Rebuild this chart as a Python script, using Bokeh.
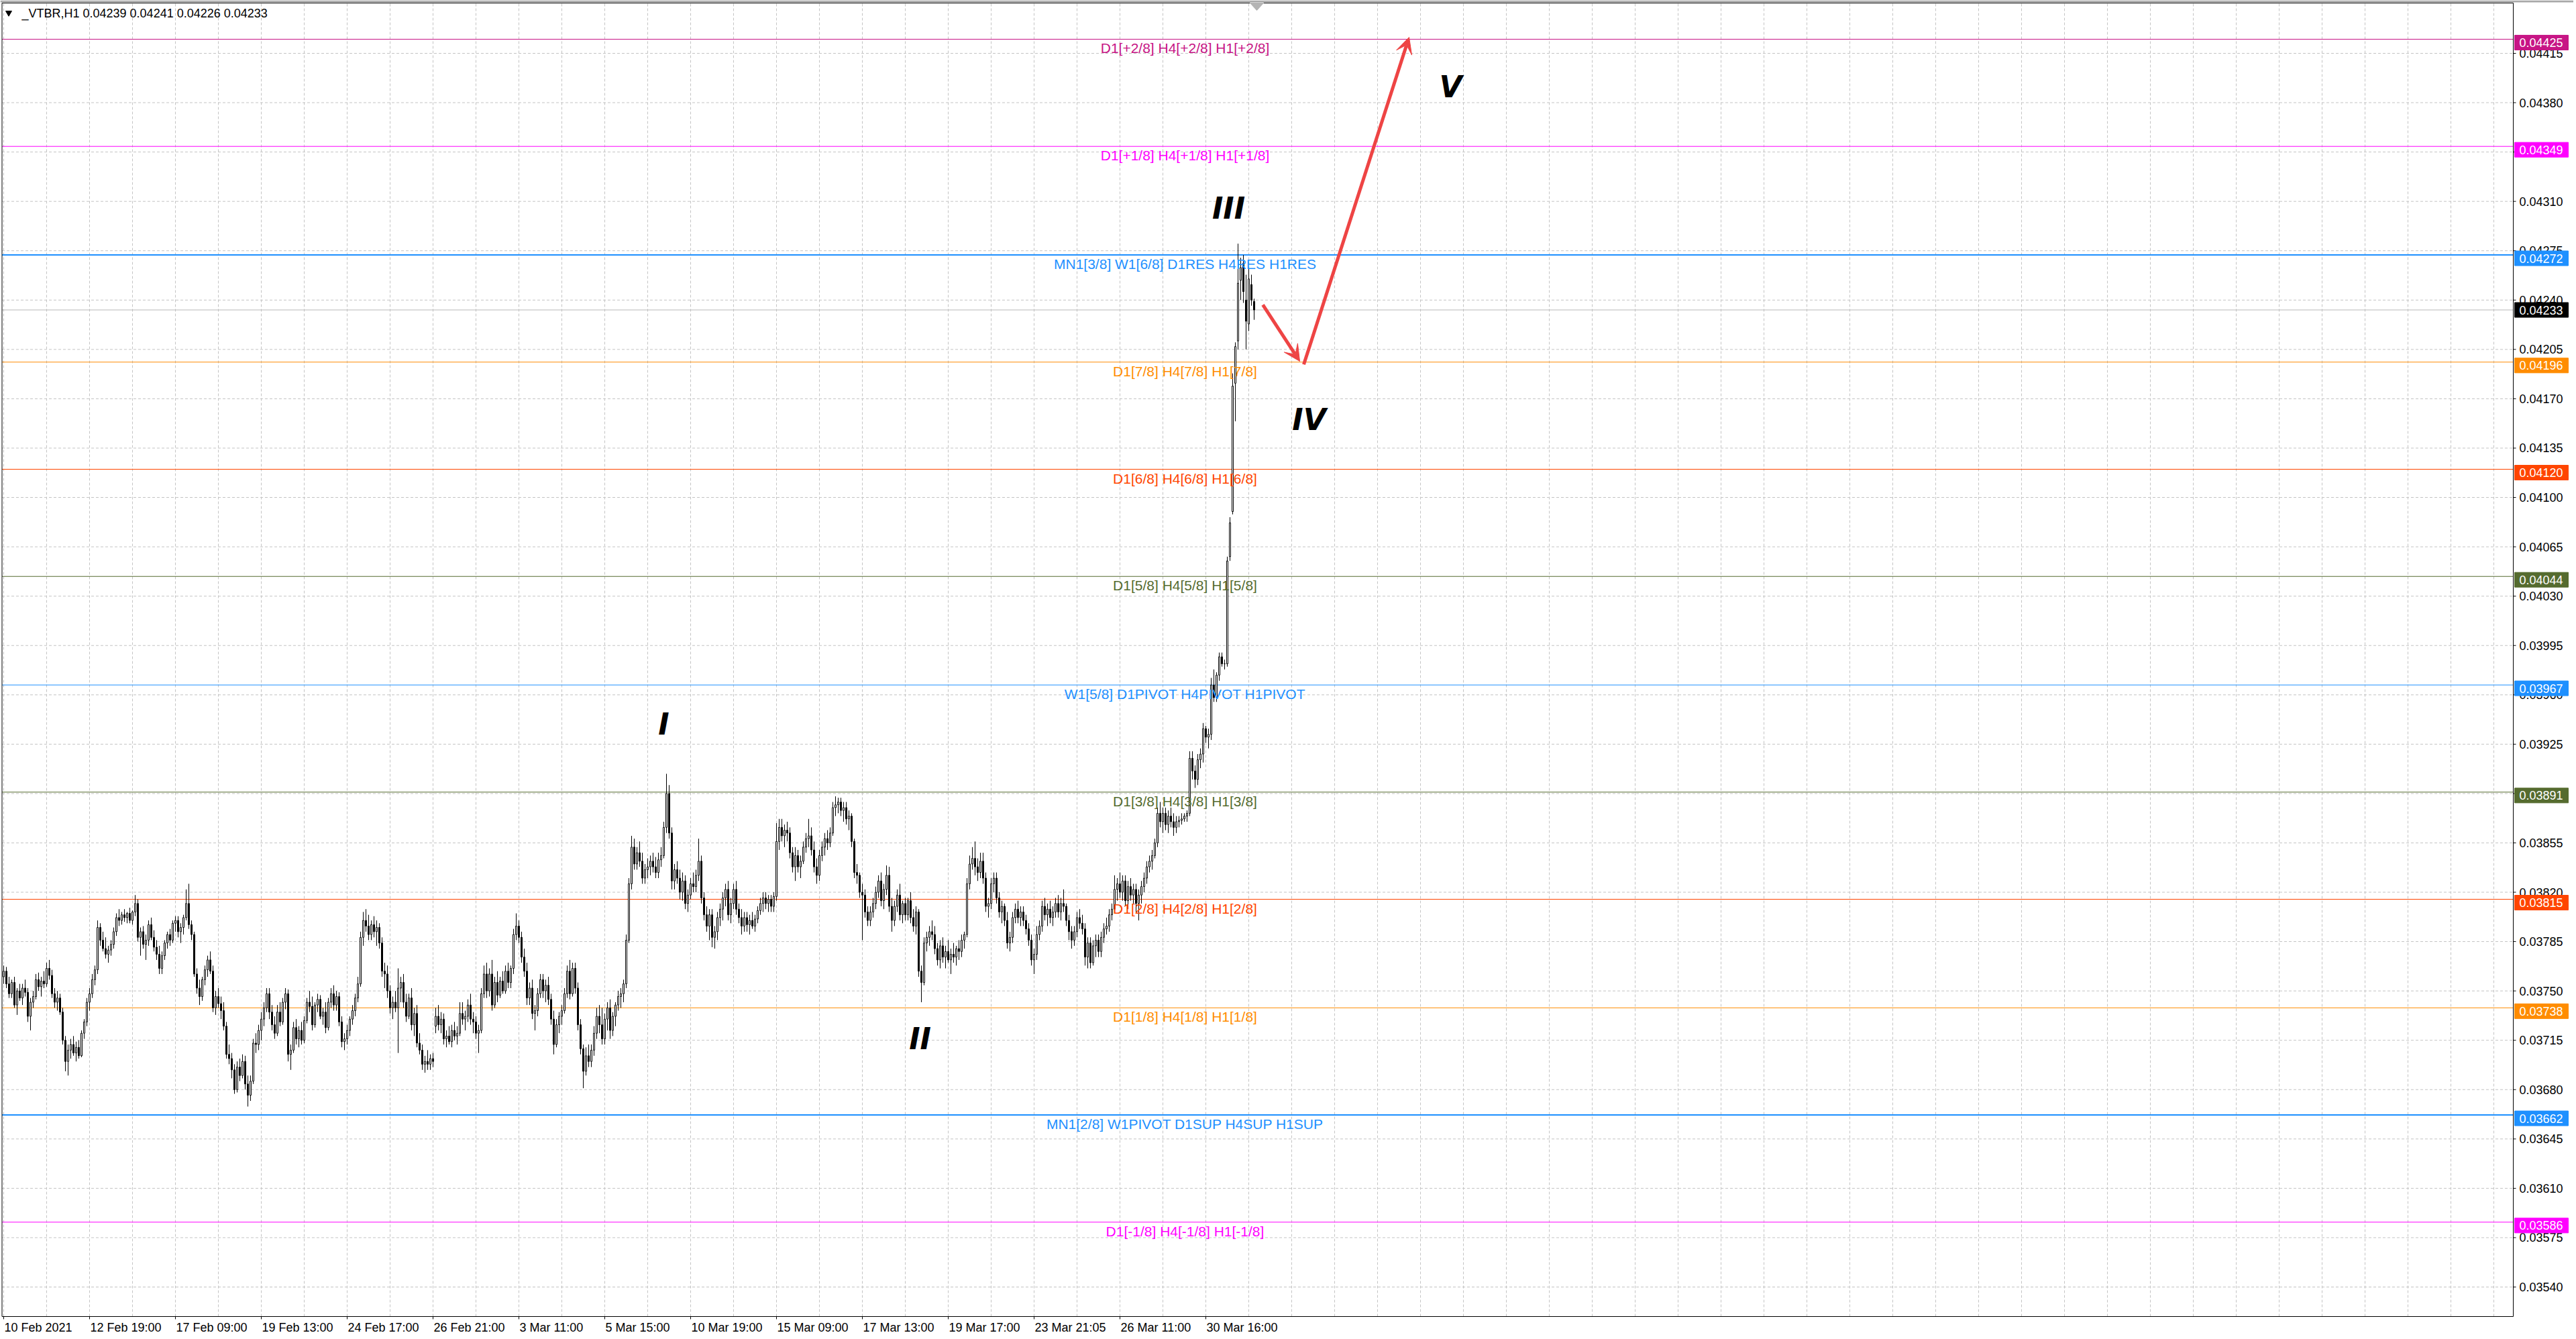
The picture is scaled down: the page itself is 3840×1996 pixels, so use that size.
import numpy as np
from bokeh.plotting import figure
from bokeh.models import Range1d, Arrow, VeeHead, ColumnDataSource
from bokeh.core.properties import value
from bokeh.embed import file_html
from bokeh.resources import INLINE

# ---------------- data ----------------
TITLE_TEXT = "_VTBR,H1  0.04239 0.04241 0.04226 0.04233"
PRICE_UNIT = 0.00001  # OHLC values below are in 1e-5 units

OPEN = [
    3760,3764,3755,3748,3756,3740,3750,3745,3752,3749,
    3732,3742,3746,3758,3753,3757,3755,3766,3761,3748,
    3742,3745,3735,3715,3700,3708,3712,3706,3710,3704,
    3720,3728,3742,3748,3758,3765,3795,3786,3780,3776,
    3779,3783,3792,3802,3800,3804,3802,3805,3800,3806,
    3812,3788,3792,3783,3786,3797,3788,3781,3776,3766,
    3775,3784,3790,3786,3798,3800,3792,3795,3802,3812,
    3797,3790,3762,3752,3746,3758,3765,3772,3764,3738,
    3746,3741,3736,3725,3705,3702,3694,3680,3696,3690,
    3700,3684,3676,3686,3713,3712,3722,3730,3738,3748,
    3735,3726,3720,3735,3728,3742,3748,3705,3708,3724,
    3716,3722,3715,3729,3742,3739,3726,3740,3744,3732,
    3735,3724,3742,3748,3740,3746,3728,3714,3716,3722,
    3730,3736,3745,3755,3788,3800,3796,3790,3797,3792,
    3795,3784,3764,3762,3750,3738,3742,3738,3752,3756,
    3742,3732,3745,3726,3734,3713,3708,3698,3700,3698,
    3702,3725,3732,3726,3730,3716,3718,3714,3722,3718,
    3720,3734,3730,3732,3740,3730,3728,3720,3722,3748,
    3762,3750,3762,3740,3756,3747,3757,3750,3764,3756,
    3766,3790,3796,3788,3774,3764,3745,3752,3734,3736,
    3748,3758,3750,3754,3744,3730,3712,3726,3732,3736,
    3748,3764,3748,3766,3752,3726,3709,3693,3704,3700,
    3708,3720,3732,3726,3716,3730,3738,3722,3732,3740,
    3746,3748,3755,3786,3826,3852,3840,3848,3842,3830,
    3836,3838,3842,3838,3834,3843,3846,3866,3890,3862,
    3828,3836,3830,3820,3828,3812,3818,3826,3824,3832,
    3842,3816,3804,3796,3804,3788,3792,3802,3808,3816,
    3822,3804,3812,3822,3808,3802,3796,3802,3797,3800,
    3796,3801,3807,3812,3816,3812,3815,3810,3817,3856,
    3866,3860,3864,3862,3848,3838,3846,3838,3842,3852,
    3858,3860,3850,3838,3832,3846,3852,3858,3855,3862,
    3880,3882,3884,3878,3880,3872,3874,3856,3834,3832,
    3820,3818,3806,3800,3806,3812,3820,3828,3814,3822,
    3832,3810,3800,3810,3818,3804,3812,3804,3814,3802,
    3796,3806,3764,3756,3784,3788,3792,3790,3780,3772,
    3782,3774,3778,3772,3776,3774,3780,3778,3786,3790,
    3826,3840,3844,3838,3834,3842,3830,3810,3812,3826,
    3830,3816,3806,3810,3800,3784,3788,3802,3808,3802,
    3806,3800,3794,3786,3772,3776,3790,3796,3810,3804,
    3808,3802,3806,3812,3806,3812,3810,3800,3792,3786,
    3792,3802,3798,3794,3774,3784,3770,3782,3786,3778,
    3788,3794,3796,3804,3808,3822,3826,3820,3828,3814,
    3824,3818,3822,3812,3818,3824,3830,3838,3842,3846,
    3855,3876,3870,3876,3868,3874,3870,3866,3870,3871,
    3872,3874,3876,3915,3906,3900,3914,3918,3936,3930,
    3932,3967,3958,3974,3987,3982,3982,4058,4090,4181,
    4211,4254,4266,4240,4223,4251,4239,
]

HIGH = [
    3768,3767,3760,3758,3760,3752,3755,3755,3758,3752,
    3745,3750,3762,3763,3760,3764,3770,3772,3765,3752,
    3750,3748,3738,3718,3712,3716,3718,3714,3715,3722,
    3730,3745,3752,3762,3768,3800,3798,3792,3788,3782,
    3786,3795,3805,3808,3806,3808,3806,3809,3807,3818,
    3815,3795,3796,3790,3800,3802,3793,3786,3782,3778,
    3786,3792,3794,3800,3803,3803,3798,3804,3822,3826,
    3800,3792,3766,3758,3760,3768,3775,3778,3768,3750,
    3752,3746,3742,3728,3712,3706,3698,3700,3702,3705,
    3704,3690,3690,3716,3720,3726,3735,3742,3752,3752,
    3740,3732,3740,3742,3745,3752,3751,3712,3728,3730,
    3725,3728,3732,3745,3750,3746,3742,3748,3747,3738,
    3742,3745,3752,3754,3750,3749,3732,3720,3726,3732,
    3740,3748,3760,3792,3806,3808,3804,3800,3803,3800,
    3798,3788,3770,3768,3754,3746,3750,3766,3760,3762,
    3748,3748,3752,3738,3740,3720,3712,3704,3708,3705,
    3706,3738,3740,3735,3734,3722,3725,3726,3728,3725,
    3742,3742,3736,3744,3748,3735,3732,3726,3752,3768,
    3770,3766,3772,3760,3764,3760,3764,3768,3770,3768,
    3794,3805,3800,3792,3780,3770,3756,3758,3740,3752,
    3762,3762,3758,3760,3748,3736,3730,3735,3740,3752,
    3768,3772,3770,3770,3756,3730,3712,3710,3712,3712,
    3725,3738,3740,3738,3734,3742,3744,3735,3742,3750,
    3752,3758,3790,3830,3860,3858,3852,3856,3848,3840,
    3844,3846,3848,3845,3848,3852,3870,3904,3896,3866,
    3840,3842,3836,3834,3832,3822,3830,3834,3836,3858,
    3846,3820,3810,3808,3808,3796,3806,3812,3820,3826,
    3828,3816,3826,3828,3812,3808,3806,3806,3804,3806,
    3804,3810,3816,3820,3820,3818,3818,3820,3869,3872,
    3872,3868,3870,3866,3852,3852,3850,3846,3856,3862,
    3872,3866,3856,3844,3850,3856,3862,3864,3866,3884,
    3888,3887,3887,3884,3884,3878,3876,3858,3840,3834,
    3826,3822,3810,3810,3816,3824,3832,3834,3826,3839,
    3838,3816,3814,3822,3826,3814,3816,3816,3820,3808,
    3810,3808,3768,3788,3792,3796,3800,3796,3784,3786,
    3788,3782,3786,3780,3784,3782,3786,3790,3792,3830,
    3846,3852,3856,3844,3848,3848,3834,3816,3830,3834,
    3834,3820,3814,3812,3806,3792,3806,3812,3814,3810,
    3810,3804,3798,3790,3780,3796,3800,3814,3816,3812,
    3814,3810,3816,3818,3816,3822,3812,3804,3796,3796,
    3806,3808,3804,3798,3788,3788,3786,3790,3790,3792,
    3798,3802,3808,3812,3832,3830,3834,3832,3832,3828,
    3830,3826,3826,3822,3828,3834,3842,3846,3850,3858,
    3880,3884,3880,3880,3878,3880,3876,3874,3874,3876,
    3876,3878,3920,3920,3910,3918,3922,3940,3938,3936,
    3972,3978,3976,3990,3990,3985,4058,4086,4188,4210,
    4280,4270,4272,4258,4262,4258,4241,
]

LOW = [
    3755,3752,3745,3745,3738,3733,3743,3740,3746,3728,
    3722,3738,3744,3750,3746,3752,3753,3758,3745,3738,
    3736,3733,3712,3693,3690,3702,3704,3700,3702,3703,
    3716,3725,3736,3745,3754,3762,3782,3778,3773,3770,
    3775,3780,3789,3796,3797,3799,3798,3798,3797,3803,
    3785,3775,3780,3772,3782,3786,3778,3772,3762,3762,
    3772,3780,3782,3784,3792,3788,3784,3790,3800,3794,
    3786,3760,3748,3740,3743,3754,3760,3762,3735,3733,
    3738,3730,3722,3702,3698,3688,3677,3678,3686,3688,
    3680,3668,3672,3684,3706,3708,3715,3725,3735,3730,
    3722,3716,3718,3725,3726,3737,3700,3694,3706,3712,
    3710,3712,3713,3727,3735,3722,3724,3735,3730,3726,
    3720,3722,3738,3736,3736,3725,3710,3708,3712,3718,
    3726,3732,3742,3753,3782,3792,3786,3786,3788,3782,
    3780,3760,3752,3745,3734,3730,3735,3706,3742,3738,
    3728,3730,3722,3718,3710,3705,3694,3692,3694,3694,
    3696,3720,3722,3720,3712,3710,3712,3710,3715,3712,
    3718,3726,3722,3728,3726,3720,3716,3706,3720,3745,
    3745,3746,3736,3738,3742,3745,3748,3748,3752,3752,
    3762,3786,3784,3770,3760,3740,3740,3730,3722,3732,
    3745,3745,3742,3740,3726,3705,3710,3720,3726,3734,
    3745,3744,3746,3748,3722,3705,3681,3690,3696,3696,
    3704,3716,3720,3712,3712,3722,3716,3718,3725,3736,
    3738,3742,3752,3784,3822,3836,3836,3838,3826,3826,
    3830,3832,3834,3830,3830,3838,3844,3862,3858,3822,
    3822,3826,3815,3814,3808,3806,3815,3820,3820,3828,
    3812,3800,3792,3786,3781,3780,3786,3796,3800,3810,
    3800,3798,3808,3804,3798,3790,3792,3792,3790,3794,
    3792,3798,3804,3806,3808,3806,3806,3806,3814,3850,
    3856,3852,3856,3844,3834,3828,3834,3830,3840,3848,
    3852,3846,3834,3826,3828,3842,3846,3850,3852,3860,
    3874,3876,3874,3870,3868,3864,3852,3830,3826,3816,
    3786,3802,3796,3796,3802,3808,3816,3810,3808,3818,
    3806,3792,3796,3806,3800,3798,3800,3800,3798,3792,
    3790,3760,3742,3754,3778,3782,3786,3776,3768,3766,
    3770,3766,3770,3762,3770,3768,3772,3774,3780,3788,
    3822,3836,3832,3828,3830,3826,3806,3802,3808,3820,
    3812,3802,3798,3796,3780,3778,3784,3798,3798,3796,
    3796,3790,3782,3768,3762,3772,3786,3792,3800,3796,
    3798,3796,3802,3802,3800,3806,3796,3786,3780,3782,
    3788,3794,3790,3768,3766,3766,3768,3774,3774,3774,
    3784,3790,3792,3800,3806,3814,3816,3814,3810,3808,
    3814,3812,3806,3800,3812,3820,3826,3834,3836,3844,
    3852,3866,3862,3864,3862,3866,3860,3862,3866,3868,
    3870,3870,3874,3900,3894,3896,3908,3912,3926,3922,
    3928,3955,3955,3970,3980,3978,3980,4055,4088,4154,
    4205,4240,4238,4205,4218,4236,4226,
]

CLOSE = [
    3764,3755,3748,3756,3740,3750,3745,3752,3749,3732,
    3742,3746,3758,3753,3757,3755,3766,3761,3748,3742,
    3745,3735,3715,3700,3708,3712,3706,3710,3704,3720,
    3728,3742,3748,3758,3765,3795,3786,3780,3776,3779,
    3783,3792,3802,3800,3804,3802,3805,3800,3806,3812,
    3788,3792,3783,3786,3797,3788,3781,3776,3766,3775,
    3784,3790,3786,3798,3800,3792,3795,3802,3812,3797,
    3790,3762,3752,3746,3758,3765,3772,3764,3738,3746,
    3741,3736,3725,3705,3702,3694,3680,3696,3690,3700,
    3684,3676,3686,3713,3712,3722,3730,3738,3748,3735,
    3726,3720,3735,3728,3742,3748,3705,3708,3724,3716,
    3722,3715,3729,3742,3739,3726,3740,3744,3732,3735,
    3724,3742,3748,3740,3746,3728,3714,3716,3722,3730,
    3736,3745,3755,3788,3800,3796,3790,3797,3792,3795,
    3784,3764,3762,3750,3738,3742,3738,3752,3756,3742,
    3732,3745,3726,3734,3713,3708,3698,3700,3698,3702,
    3700,3732,3726,3730,3716,3718,3714,3722,3718,3720,
    3734,3730,3732,3740,3730,3728,3720,3722,3748,3762,
    3750,3762,3740,3756,3747,3757,3750,3764,3756,3766,
    3790,3796,3788,3774,3764,3745,3752,3734,3736,3748,
    3758,3750,3754,3744,3730,3712,3726,3732,3736,3748,
    3764,3748,3766,3752,3726,3709,3693,3704,3700,3708,
    3720,3732,3726,3716,3730,3738,3722,3732,3740,3746,
    3748,3755,3786,3826,3852,3840,3848,3842,3830,3836,
    3838,3842,3838,3834,3843,3846,3866,3890,3862,3828,
    3836,3830,3820,3828,3812,3818,3826,3824,3832,3842,
    3816,3804,3796,3804,3788,3792,3802,3808,3816,3822,
    3804,3812,3822,3808,3802,3796,3802,3797,3800,3796,
    3801,3807,3812,3816,3812,3815,3810,3817,3856,3866,
    3860,3864,3862,3848,3838,3846,3838,3842,3852,3858,
    3860,3850,3838,3832,3846,3852,3858,3855,3862,3880,
    3882,3884,3878,3880,3872,3874,3856,3834,3832,3820,
    3818,3806,3800,3806,3812,3820,3828,3814,3822,3832,
    3810,3800,3810,3818,3804,3812,3804,3814,3802,3796,
    3806,3764,3756,3784,3788,3792,3790,3780,3772,3782,
    3774,3778,3772,3776,3774,3780,3778,3786,3790,3826,
    3840,3844,3838,3834,3842,3830,3810,3812,3826,3830,
    3816,3806,3810,3800,3784,3788,3802,3808,3802,3806,
    3800,3794,3786,3772,3776,3790,3796,3810,3804,3808,
    3802,3806,3812,3806,3812,3810,3800,3792,3786,3792,
    3802,3798,3794,3774,3784,3770,3782,3786,3778,3788,
    3794,3796,3804,3808,3822,3826,3820,3828,3814,3824,
    3818,3822,3812,3818,3824,3830,3838,3842,3846,3855,
    3876,3870,3876,3868,3874,3870,3866,3870,3871,3872,
    3874,3876,3915,3906,3900,3914,3918,3936,3930,3932,
    3967,3958,3974,3987,3982,3982,4055,4082,4179,4207,
    4252,4263,4246,4225,4255,4240,4233,
]

DATE_TICKS = [0, 32, 64, 96, 128, 160, 192, 224, 256, 288, 320, 352, 384, 416, 448]
DATE_LABELS = ["10 Feb 2021", "12 Feb 19:00", "17 Feb 09:00", "19 Feb 13:00",
               "24 Feb 17:00", "26 Feb 21:00", "3 Mar 11:00", "5 Mar 15:00",
               "10 Mar 19:00", "15 Mar 09:00", "17 Mar 13:00", "19 Mar 17:00",
               "23 Mar 21:05", "26 Mar 11:00", "30 Mar 16:00"]

PRICE_TICKS = [0.03540, 0.03575, 0.03610, 0.03645, 0.03680, 0.03715, 0.03750,
               0.03785, 0.03820, 0.03855, 0.03890, 0.03925, 0.03960, 0.03995,
               0.04030, 0.04065, 0.04100, 0.04135, 0.04170, 0.04205, 0.04240,
               0.04275, 0.04310, 0.04345, 0.04380, 0.04415]

LEVEL_PRICES = [0.04425, 0.04349, 0.04272, 0.04196, 0.04120, 0.04044,
                0.03967, 0.03891, 0.03815, 0.03738, 0.03662, 0.03586]
LEVEL_TEXTS = ["D1[+2/8] H4[+2/8] H1[+2/8]",
               "D1[+1/8] H4[+1/8] H1[+1/8]",
               "MN1[3/8] W1[6/8] D1RES H4RES H1RES",
               "D1[7/8] H4[7/8] H1[7/8]",
               "D1[6/8] H4[6/8] H1[6/8]",
               "D1[5/8] H4[5/8] H1[5/8]",
               "W1[5/8] D1PIVOT H4PIVOT H1PIVOT",
               "D1[3/8] H4[3/8] H1[3/8]",
               "D1[2/8] H4[2/8] H1[2/8]",
               "D1[1/8] H4[1/8] H1[1/8]",
               "MN1[2/8] W1PIVOT D1SUP H4SUP H1SUP",
               "D1[-1/8] H4[-1/8] H1[-1/8]"]
LAST_PRICE = 0.04233

WAVE_TEXTS = ["I", "II", "III", "IV", "V"]
WAVE_BAR = [246.0, 341.5, 456.5, 486.5, 539.25]
WAVE_PRICE = [0.03939, 0.03716, 0.04305, 0.04155, 0.04391]

ARROW_BAR0 = [469.25, 484.5]
ARROW_PRICE0 = [0.042366, 0.041943]
ARROW_BAR1 = [483.0, 523.75]
ARROW_PRICE1 = [0.041966, 0.044264]

# ---------------- styles / layout ----------------
LEVEL_COLORS = ["#C71585", "#FF00FF", "#1E90FF", "#FF8C00", "#FF4500", "#556B2F",
                "#1E90FF", "#556B2F", "#FF4500", "#FF8C00", "#1E90FF", "#FF00FF"]
LEVEL_WIDTHS = [1, 1, 2, 1, 1, 1, 1, 1, 1, 1, 2, 1]
ARROW_COLOR = "#EE4444"
GRID_COLOR = "#C4C4C4"
FONT = "Liberation Sans"

W, H = 3836, 1992
BAR_PX = 4.0          # pixels per bar
PX_PER_PRICE = 210171.0


def bar_at(px):
    return (px - 5.0) / BAR_PX


def price_at(py):
    return 0.04415 - (py - 79.0) / PX_PER_PRICE


FRAME_L, FRAME_R = bar_at(2.5), bar_at(3746)
FRAME_T, FRAME_B = price_at(4), price_at(1962)

p = figure(width=W, height=H, x_range=Range1d(bar_at(0), bar_at(W)),
           y_range=Range1d(price_at(H), price_at(0)),
           output_backend="svg", toolbar_location=None, tools="", title=None,
           min_border=0, x_axis_location=None, y_axis_location=None)
p.background_fill_color = "white"
p.border_fill_color = "white"
p.outline_line_color = None
p.grid.visible = False

# window top edge
p.segment(x0=[bar_at(0)], y0=[price_at(1.5)], x1=[bar_at(W)], y1=[price_at(1.5)],
          line_color="#A8A8A8", line_width=3)

# grid
vg = list(range(0, int(FRAME_R), 16))
p.segment(x0=vg, y0=[FRAME_B] * len(vg), x1=vg, y1=[FRAME_T] * len(vg),
          line_color=GRID_COLOR, line_dash="4 3", line_width=1)
p.segment(x0=[FRAME_L] * len(PRICE_TICKS), y0=PRICE_TICKS,
          x1=[FRAME_R] * len(PRICE_TICKS), y1=PRICE_TICKS,
          line_color=GRID_COLOR, line_dash="4 3", line_width=1)

# level lines + current price line
nl = len(LEVEL_PRICES)
p.segment(x0=[FRAME_L] * nl, y0=LEVEL_PRICES, x1=[FRAME_R] * nl, y1=LEVEL_PRICES,
          line_color=LEVEL_COLORS, line_width=LEVEL_WIDTHS)
p.segment(x0=[FRAME_L], y0=[LAST_PRICE], x1=[FRAME_R], y1=[LAST_PRICE],
          line_color="#B8B8B8", line_width=1)

# candles
n = min(len(OPEN), len(HIGH), len(LOW), len(CLOSE))
xs = np.arange(n)
o = np.array(OPEN[:n]) * PRICE_UNIT
h = np.array(HIGH[:n]) * PRICE_UNIT
l = np.array(LOW[:n]) * PRICE_UNIT
c = np.array(CLOSE[:n]) * PRICE_UNIT
up = c >= o
p.segment(x0=xs, y0=l, x1=xs, y1=h, line_color="black", line_width=1)
p.vbar(x=xs[up], width=0.5, top=c[up], bottom=o[up],
       fill_color="white", line_color="black", line_width=1)
p.vbar(x=xs[~up], width=0.5, top=o[~up], bottom=c[~up],
       fill_color="black", line_color="black", line_width=1)

# level texts
LEVEL_LABEL_BAR = bar_at(1766)
lev_src = ColumnDataSource(dict(x=[LEVEL_LABEL_BAR] * nl, y=LEVEL_PRICES,
                                text=LEVEL_TEXTS, color=LEVEL_COLORS))
p.text(x="x", y="y", text="text", text_color="color", source=lev_src,
       text_font=value(FONT), text_font_size="21px", text_align="center",
       text_baseline="top", y_offset=2)

# wave labels
wave_src = ColumnDataSource(dict(x=WAVE_BAR, y=WAVE_PRICE, text=WAVE_TEXTS))
p.text(x="x", y="y", text="text", source=wave_src, text_color="black",
       text_font=value("DejaVu Sans"), text_font_style="bold italic",
       text_font_size="44px", text_align="center", text_baseline="middle")

# arrows
for xa0, ya0, xa1, ya1 in zip(ARROW_BAR0, ARROW_PRICE0, ARROW_BAR1, ARROW_PRICE1):
    p.add_layout(Arrow(end=VeeHead(size=24, fill_color=ARROW_COLOR, line_color=ARROW_COLOR),
                       x_start=xa0, y_start=ya0, x_end=xa1, y_end=ya1,
                       line_color=ARROW_COLOR, line_width=5))

# chart frame
p.segment(x0=[FRAME_L, FRAME_R, FRAME_L, FRAME_L], y0=[FRAME_B, FRAME_B, FRAME_T, FRAME_B],
          x1=[FRAME_L, FRAME_R, FRAME_R, FRAME_R], y1=[FRAME_T, FRAME_T, FRAME_T, FRAME_B],
          line_color="black", line_width=1)

# chart-shift marker at the top edge
p.patch(x=[bar_at(1863), bar_at(1883), bar_at(1873)],
        y=[price_at(4), price_at(4), price_at(15)],
        fill_color="#B4B4B4", line_color="#B4B4B4")

# price scale (right)
npt = len(PRICE_TICKS)
p.segment(x0=[FRAME_R] * npt, y0=PRICE_TICKS, x1=[bar_at(3750)] * npt, y1=PRICE_TICKS,
          line_color="black", line_width=1)
p.text(x=[bar_at(3755)] * npt, y=PRICE_TICKS, text=["%.5f" % v for v in PRICE_TICKS],
       text_font=value(FONT), text_font_size="18px", text_color="black",
       text_align="left", text_baseline="middle")

# time scale (bottom)
nd = len(DATE_TICKS)
p.segment(x0=DATE_TICKS, y0=[FRAME_B] * nd, x1=DATE_TICKS, y1=[price_at(1966)] * nd,
          line_color="black", line_width=1)
p.text(x=[t + 0.25 for t in DATE_TICKS], y=[price_at(1978)] * nd, text=DATE_LABELS,
       text_font=value(FONT), text_font_size="18px", text_color="black",
       text_align="left", text_baseline="middle")

# price boxes on the scale
box_y = [v - 5.0 / PX_PER_PRICE for v in LEVEL_PRICES] + [LAST_PRICE]
box_c = LEVEL_COLORS + ["black"]
box_t = ["%.5f" % v for v in LEVEL_PRICES] + ["%.5f" % LAST_PRICE]
p.rect(x=[bar_at(3788)] * len(box_y), y=box_y, width=80, height=22,
       width_units="screen", height_units="screen", fill_color=box_c, line_color=box_c)
p.text(x=[bar_at(3755)] * len(box_y), y=box_y, text=box_t, text_font=value(FONT),
       text_font_size="18px", text_color="white", text_align="left",
       text_baseline="middle")

# title
p.scatter(x=[bar_at(12.5)], y=[price_at(18.5)], marker="inverted_triangle", size=9,
          fill_color="black", line_color="black")
p.text(x=[bar_at(32)], y=[price_at(19.5)], text=[TITLE_TEXT], text_font=value(FONT),
       text_font_size="18px", text_color="black", text_align="left",
       text_baseline="middle")

open("out.html", "w").write(file_html(p, INLINE))
